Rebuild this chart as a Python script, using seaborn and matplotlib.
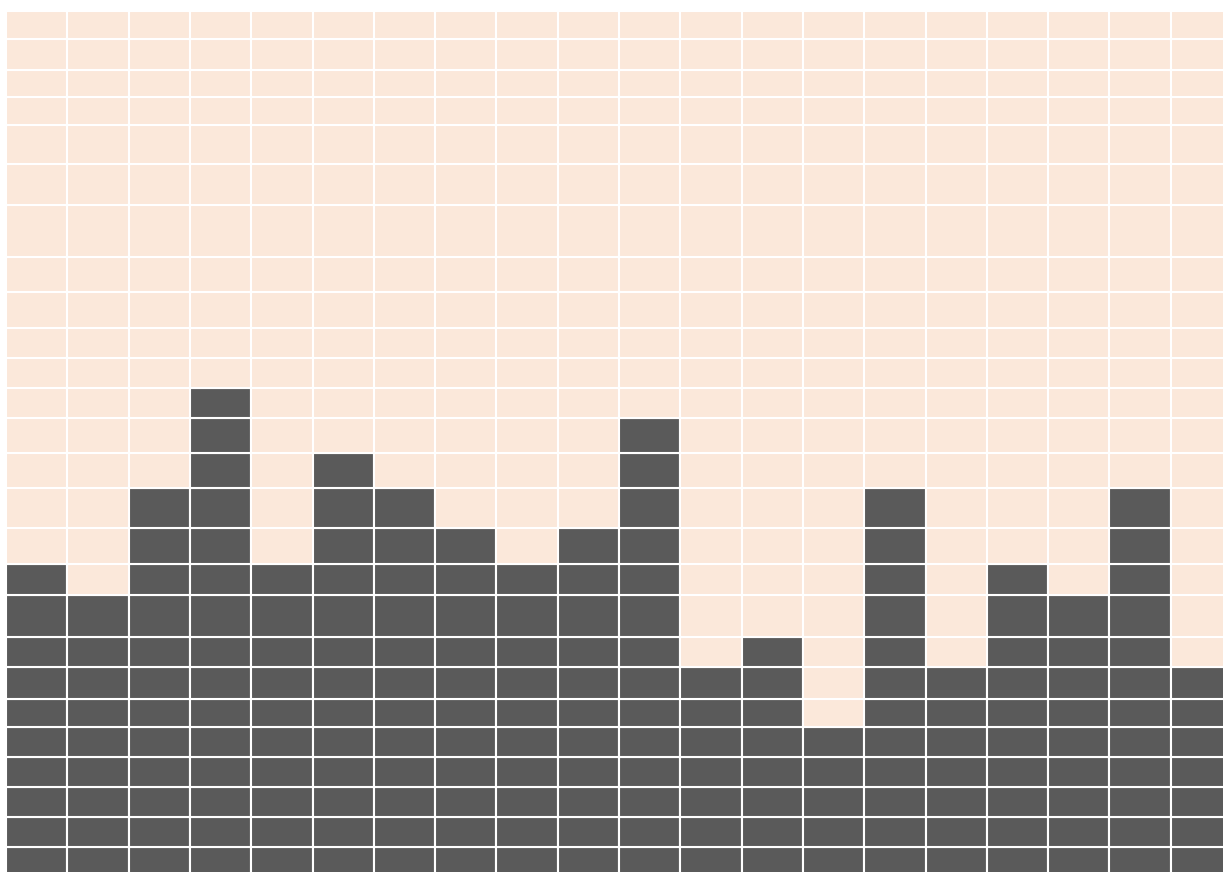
import numpy as np
import matplotlib
matplotlib.use("Agg")
import matplotlib.pyplot as plt
import seaborn as sns

# Column categories and the number of filled (dark) cells per column
columns = [f"C{i+1}" for i in range(20)]
filled_levels = [10, 9, 12, 15, 10, 13, 12, 11, 10, 11, 14, 7, 8, 5, 12, 7, 10, 9, 12, 7]

# Heights of each row band, from bottom to top
row_heights = [30, 30, 30, 30, 30, 28, 32, 30, 42, 30.4, 36.6, 40, 35, 35,
               30, 30, 30, 35.7, 35.3, 51.7, 41.3, 39, 27.7, 27.3, 30.2, 28.5]

DARK = "#5A5A5A"
LIGHT = "#FBE8DA"

sns.set_theme(style="white")

W, H = 1223, 872
fig = plt.figure(figsize=(W / 100, H / 100), dpi=100)
total = sum(row_heights)
left_px, top_px = 6, 11
width_px = 61.3 * len(columns)
ax = fig.add_axes([left_px / W, (H - top_px - total) / H, width_px / W, total / H])

x = np.arange(len(columns))
bottom = 0.0
for r, h in enumerate(row_heights):
    colors = [DARK if r < lvl else LIGHT for lvl in filled_levels]
    ax.bar(x, h, bottom=bottom, width=1.0, color=colors,
           edgecolor="white", linewidth=1.5)
    bottom += h

ax.set_xlim(-0.5, len(columns) - 0.5)
ax.set_ylim(0, total)
ax.axis("off")

fig.savefig("out.png", dpi=100)
